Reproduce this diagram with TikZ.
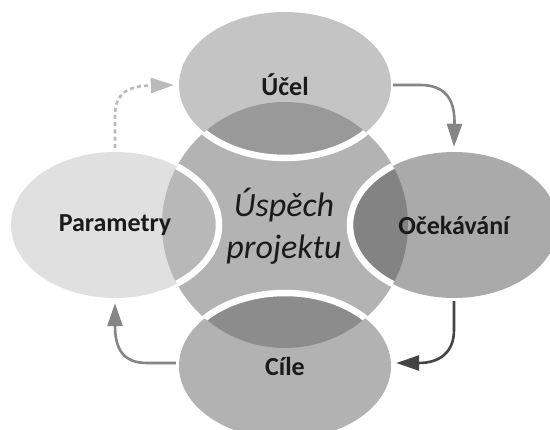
\documentclass[tikz,border=0pt]{standalone}
\usepackage{fontspec}
\setmainfont{Carlito}
\usetikzlibrary{shapes.geometric,arrows.meta}
\definecolor{centerfill}{HTML}{B3B3B3}
\definecolor{topout}{HTML}{C4C4C4}
\definecolor{topin}{HTML}{999999}
\definecolor{leftout}{HTML}{E0E0E0}
\definecolor{leftin}{HTML}{B8B8B8}
\definecolor{rightout}{HTML}{AAAAAA}
\definecolor{rightin}{HTML}{838383}
\definecolor{botout}{HTML}{B2B2B2}
\definecolor{botin}{HTML}{8C8C8C}
\definecolor{txt}{HTML}{1A1A1A}
\definecolor{arrlight}{HTML}{BABABA}
\definecolor{arrmid}{HTML}{858585}
\definecolor{arrdark}{HTML}{444444}
\tikzset{
  ellnode/.style={ellipse, minimum width=210pt, minimum height=146pt, inner sep=0pt,
    font=\fontsize{26}{30}\selectfont\bfseries, text=txt},
  cyc/.style={line width=2.6pt, -{Triangle[length=23pt,width=15pt]}},
}
\begin{document}
\begin{tikzpicture}[x=1pt,y=-1pt]
\useasboundingbox[fill=white] (0,0) rectangle (550,430);
\coordinate (C) at (285,225);
% central circle
\fill[centerfill] (C) circle[radius=123pt];
% ellipses, outer parts
\fill[topout] (285,85) ellipse[x radius=106pt, y radius=73pt];
\fill[leftout] (115,225) ellipse[x radius=104pt, y radius=73pt];
\fill[rightout] (454,225) ellipse[x radius=104pt, y radius=73pt];
\fill[botout] (285,366) ellipse[x radius=106pt, y radius=73pt];
% overlaps with the circle and white rims
\begin{scope}
  \clip (C) circle[radius=123pt];
  \fill[topin] (285,85) ellipse[x radius=106pt, y radius=73pt];
  \fill[leftin] (115,225) ellipse[x radius=104pt, y radius=73pt];
  \fill[rightin] (454,225) ellipse[x radius=104pt, y radius=73pt];
  \fill[botin] (285,366) ellipse[x radius=106pt, y radius=73pt];
  \draw[white, line width=6.5pt] (285,85) ellipse[x radius=106pt, y radius=73pt];
  \draw[white, line width=6.5pt] (115,225) ellipse[x radius=104pt, y radius=73pt];
  \draw[white, line width=6.5pt] (454,225) ellipse[x radius=104pt, y radius=73pt];
  \draw[white, line width=6.5pt] (285,366) ellipse[x radius=106pt, y radius=73pt];
\end{scope}
% labelled nodes
\node[ellnode, minimum width=212pt] (T) at (285,85) {Účel};
\node[ellnode, minimum width=208pt] (L) at (115,225) {Parametry};
\node[ellnode, minimum width=208pt] (R) at (454,225) {Očekávání};
\node[ellnode, minimum width=212pt] (B) at (285,366) {Cíle};
\node[align=center, text=txt, font=\fontsize{34}{42}\selectfont\itshape] (P) at (284,226) {Úspěch\\projektu};
% cycle arrows
\draw[cyc, arrlight, dash pattern=on 4pt off 3.2pt]
  ([yshift=4pt]L.north) -- (115,116) .. controls (115,93) and (128,86) .. ([xshift=-5pt]T.west);
\draw[cyc, arrmid]
  ([xshift=2pt]T.east) -- (420,85) .. controls (446,85) and (455,100) .. ([yshift=5pt]R.north);
\draw[cyc, arrdark]
  ([yshift=-3pt]R.south) -- (454,330) .. controls (454,352) and (440,363) .. ([xshift=5pt,yshift=3pt]B.east);
\draw[cyc, arrmid]
  ([xshift=-3pt,yshift=3pt]B.west) -- (147,363) .. controls (124,363) and (115,350) .. ([yshift=-5pt]L.south);
\end{tikzpicture}
\end{document}
